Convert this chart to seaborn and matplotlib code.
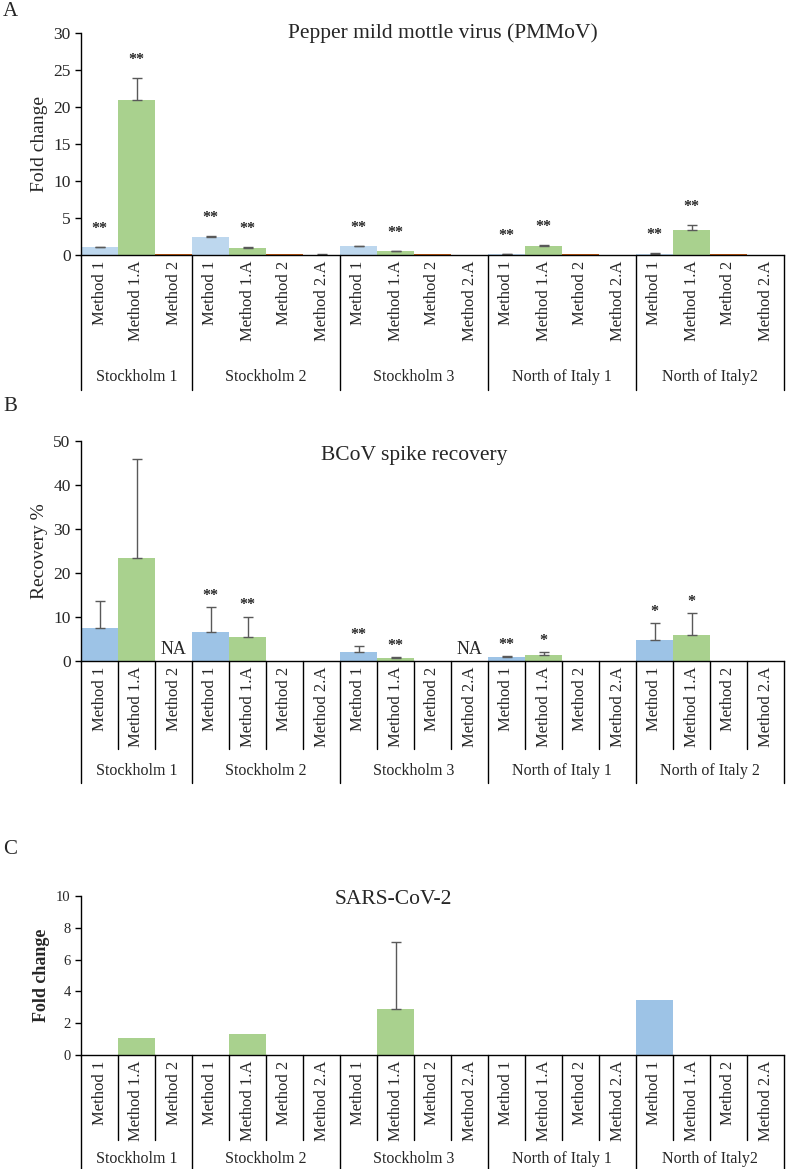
import matplotlib
matplotlib.use("Agg")
import matplotlib.pyplot as plt
import pandas as pd
import seaborn as sns

sns.set_style("ticks")
plt.rcParams["font.family"] = ["Liberation Serif", "DejaVu Serif"]

# categories
groups_a = ["Stockholm 1", "Stockholm 2", "Stockholm 3", "North of Italy 1", "North of Italy2"]
groups_b = ["Stockholm 1", "Stockholm 2", "Stockholm 3", "North of Italy 1", "North of Italy 2"]
group_sizes = [3, 4, 4, 4, 4]
methods = ["Method 1", "Method 1.A", "Method 2", "Method 2.A"]
slot_methods = methods[:3] + methods * 4

# A: PMMoV fold change
pmmov_values = [1.05, 20.9, 0.08, 2.4, 1.0, 0.08, 0.06, 1.2, 0.5, 0.08, 0.05,
                0.08, 1.26, 0.08, 0.05, 0.12, 3.4, 0.08, 0.0]
pmmov_err = [0.08, 3.0, 0, 0.12, 0.05, 0, 0.12, 0.06, 0.06, 0, 0,
             0.08, 0.06, 0, 0, 0.15, 0.65, 0, 0]
pmmov_stars = ["**", "**", "", "**", "**", "", "", "**", "**", "", "",
               "**", "**", "", "", "**", "**", "", ""]

# B: BCoV spike recovery %
bcov_values = [7.4, 23.5, 0, 6.7, 5.5, 0, 0, 2.1, 0.6, 0, 0,
               1.0, 1.4, 0, 0, 4.8, 5.9, 0, 0]
bcov_err = [6.3, 22.3, 0, 5.6, 4.6, 0, 0, 1.3, 0.2, 0, 0,
            0.15, 0.6, 0, 0, 3.8, 4.9, 0, 0]
bcov_stars = ["", "", "", "**", "**", "", "", "**", "**", "", "",
              "**", "*", "", "", "*", "*", "", ""]
bcov_na = ["", "", "NA", "", "", "", "", "", "", "", "NA",
           "", "", "", "", "", "", "", ""]

# C: SARS-CoV-2 fold change
sars_values = [0, 1.05, 0, 0, 1.3, 0, 0, 0, 2.87, 0, 0,
               0, 0, 0, 0, 3.45, 0, 0, 0]
sars_err = [0, 0, 0, 0, 0, 0, 0, 0, 4.25, 0, 0,
            0, 0, 0, 0, 0, 0, 0, 0]

W, H = 787, 1169
fig = plt.figure(figsize=(W / 100, H / 100), dpi=100)


def px_axes(top, bottom, left=81, right=784):
    return fig.add_axes([left / W, 1 - bottom / H, (right - left) / W, (bottom - top) / H])


def draw_panel(ax, values, errs, colors, groups, ymax, ystep, ylabel,
               stars=None, star_off=12, na=None, inner=None, label_px=106,
               line_px=116, tick_fs=12.5, ylabel_kw=None):
    df = pd.DataFrame({"slot": range(len(values)), "value": values, "method": slot_methods})
    sns.barplot(data=df, x="slot", y="value", hue="method", hue_order=methods,
                palette=colors, dodge=False, width=1.0, saturation=1,
                errorbar=None, legend=False, linewidth=0, ax=ax)
    for i, (v, e) in enumerate(zip(values, errs)):
        if e > 0:
            ax.errorbar(i, v, yerr=[[0], [e]], fmt="none", ecolor="#595959",
                        elinewidth=1, capsize=3.5, capthick=1)
        if stars and stars[i]:
            ax.annotate(stars[i], (i, v + e), xytext=(0, star_off),
                        textcoords="offset points", ha="center", va="center",
                        fontsize=11.5, fontweight="bold")
        if na and na[i]:
            ax.annotate(na[i], (i, 0), xytext=(0, 8), textcoords="offset points",
                        ha="center", va="center", fontsize=13)
    ax.set_ylim(0, ymax)
    ax.set_yticks(range(0, ymax + 1, ystep))
    ax.set_xlim(-0.5, len(values) - 0.5)
    ax.set_xticks(range(len(values)))
    ax.set_xticklabels(slot_methods, rotation=90, fontsize=12)
    ax.tick_params(axis="x", length=0, pad=4)
    ax.tick_params(axis="y", length=4, width=1, labelsize=tick_fs, color="black")
    ax.set_xlabel("")
    ax.set_ylabel(ylabel, **(ylabel_kw or {"fontsize": 14}))
    for s in ["top", "right"]:
        ax.spines[s].set_visible(False)
    for s in ["left", "bottom"]:
        ax.spines[s].set_color("black")
        ax.spines[s].set_linewidth(1)

    h_px = ax.get_position().height * H
    trans = ax.get_xaxis_transform()
    edges = [-0.5]
    for n in group_sizes:
        edges.append(edges[-1] + n)
    for b in edges:
        ax.plot([b, b], [0, -line_px / h_px], transform=trans, color="black",
                lw=1, clip_on=False)
    if inner:
        for b in range(len(values) + 1):
            if b - 0.5 not in edges:
                ax.plot([b - 0.5, b - 0.5], [0, -inner / h_px], transform=trans,
                        color="black", lw=1, clip_on=False)
    for g, lo, hi in zip(groups, edges[:-1], edges[1:]):
        ax.text((lo + hi) / 2, -label_px / h_px, g, transform=trans,
                ha="center", va="center", fontsize=11.5)


# panel A
ax_a = px_axes(33, 255)
pal_a = {"Method 1": "#BDD7EE", "Method 1.A": "#A9D18E",
         "Method 2": "#C55A11", "Method 2.A": "#FFD966"}
draw_panel(ax_a, pmmov_values, pmmov_err, pal_a, groups_a, 30, 5, "Fold change",
           stars=pmmov_stars, star_off=13, label_px=122, line_px=135)

# panel B
ax_b = px_axes(441, 661)
pal_b = {"Method 1": "#9DC3E6", "Method 1.A": "#A9D18E",
         "Method 2": "#F4B183", "Method 2.A": "#FFD966"}
draw_panel(ax_b, bcov_values, bcov_err, pal_b, groups_b, 50, 10, "Recovery %",
           stars=bcov_stars, star_off=8, na=bcov_na, inner=88,
           label_px=110, line_px=122)

# panel C
ax_c = px_axes(896, 1055)
draw_panel(ax_c, sars_values, sars_err, pal_b, groups_a, 10, 2, "Fold change",
           inner=85, label_px=104, line_px=116, tick_fs=10.5,
           ylabel_kw={"fontsize": 13, "fontweight": "bold"})

# panel letters and titles
def fig_text(x, y, s, **kw):
    fig.text(x / W, 1 - y / H, s, ha="center", va="center", **kw)


fig_text(10, 12, "A", fontsize=15)
fig_text(10, 407, "B", fontsize=15)
fig_text(10, 850, "C", fontsize=15)
fig_text(443, 33, "Pepper mild mottle virus (PMMoV)", fontsize=15.5)
fig_text(414, 455, "BCoV spike recovery", fontsize=15.5)
fig_text(393, 900, "SARS-CoV-2", fontsize=15.5)

fig.savefig("out.png", dpi=100, facecolor="white")
